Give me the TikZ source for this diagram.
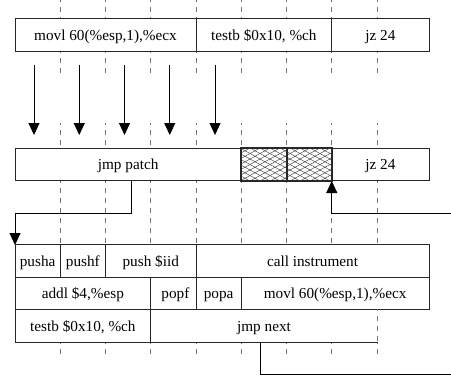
\documentclass[tikz,border=0pt]{standalone}
\usepackage{fontspec}
\setmainfont{Liberation Serif}
\usetikzlibrary{arrows.meta}
\begin{document}
\begin{tikzpicture}[x=1bp,y=-1bp,
  cell/.style={draw=black!85,line width=0.8bp,fill=white,inner sep=0pt,minimum height=32.5bp,
    font=\fontsize{15.3}{18}\selectfont,text height=10bp,text depth=0bp},
  grid/.style={draw=black!55,line width=0.8bp,dash pattern=on 5bp off 5bp,dash phase=3bp},
  conn/.style={draw=black,line width=0.9bp},
  tip/.style={-{Triangle[length=12bp,width=11bp]}}]
\useasboundingbox (0,0) rectangle (451,376);
% grid lines
\foreach \gx in {60.25,105.5,150.75,196,241.25,286.5,331.75,377}{
  \draw[grid] (\gx,0) -- (\gx,19);
  \draw[grid] (\gx,51) -- (\gx,76);
  \draw[grid] (\gx,123) -- (\gx,148);
  \draw[grid] (\gx,181) -- (\gx,245);
  \draw[grid] (\gx,342) -- (\gx,358);
}
% row A
\node[cell,minimum width=181bp] (a1) at (105.5,35) {movl 60(\%esp,1),\%ecx};
\node[cell,minimum width=135.75bp] (a2) at (263.875,35) {testb \$0x10, \%ch};
\node[cell,minimum width=97.25bp] (a3) at (380.375,35) {jz 24};
% arrows
\foreach \ax [count=\i] in {34,79.25,124.5,169.75,215}{
  \coordinate (s\i) at (\ax,65);
  \coordinate (e\i) at (\ax,135);
  \draw[conn,tip] (s\i) -- (e\i);
}
% row B
\node[cell,minimum width=226.25bp] (b1) at (128.125,164.5) {jmp patch};
\node[cell,minimum width=45.25bp] (b2) at (263.875,164.5) {};
\node[cell,minimum width=45.25bp] (b3) at (309.125,164.5) {};
\node[cell,minimum width=97.25bp] (b4) at (380.375,164.5) {jz 24};
\begin{scope}
  \clip (b2.north west) rectangle (b3.south east);
  \foreach \hx in {160,170,...,420}{
    \draw[line width=0.4bp,black!80] (\hx,148) -- ++(60,33);
    \draw[line width=0.4bp,black!80] (\hx,148) -- ++(-60,33);
  }
\end{scope}
\draw[draw=black!85,line width=0.8bp] (b2.north west) rectangle (b3.south east);
\draw[draw=black!85,line width=0.8bp] (b2.north east) -- (b2.south east);
% row C1
\node[cell,minimum width=45.25bp] (c1) at (37.625,261) {pusha};
\node[cell,minimum width=45.25bp] (c2) at (82.875,261) {pushf};
\node[cell,minimum width=90.5bp] (c3) at (150.75,261) {push \$iid};
\node[cell,minimum width=233bp] (c4) at (312.5,261) {call instrument};
% row C2
\node[cell,minimum width=135.75bp] (d1) at (82.875,293.5) {addl \$4,\%esp};
\node[cell,minimum width=45.25bp] (d2) at (173.375,293.5) {\hspace*{4bp}popf};
\node[cell,minimum width=45.25bp] (d3) at (218.625,293.5) {popa};
\node[cell,minimum width=187.75bp] (d4) at (335.125,293.5) {movl 60(\%esp,1),\%ecx};
% row C3
\node[cell,minimum width=135.75bp] (f1) at (82.875,326) {testb \$0x10, \%ch};
\node[cell,draw=none,minimum width=226.25bp] (f2) at (264,326) {jmp next};
\draw[draw=black!85,line width=0.8bp] (f2.north east) -- (f2.north west) -- (f2.south west) -- (f2.south east);
\draw[grid] (f2.north east) -- (f2.south east);
% connectors
\coordinate (j1) at (131,181);
\coordinate (j2) at (15,245);
\draw[conn,tip] (j1) -- (131,213) -| (j2);
\coordinate (k1) at (451,213);
\coordinate (k2) at (331.75,181);
\draw[conn,tip] (k1) -| (k2);
\coordinate (m1) at (260,342);
\coordinate (m2) at (451,374);
\draw[conn] (m1) |- (m2);
\end{tikzpicture}
\end{document}
